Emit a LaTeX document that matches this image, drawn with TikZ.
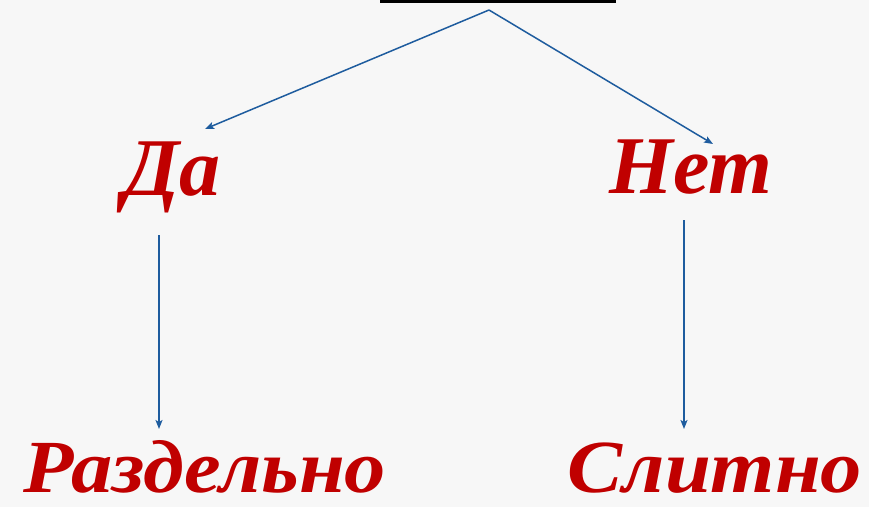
\documentclass[tikz,border=0pt]{standalone}
\usepackage{fontspec}
\setmainfont{Liberation Serif}
\newfontfamily\wideserif[FakeStretch=1.1]{Liberation Serif}
\usetikzlibrary{arrows.meta}
\definecolor{wordred}{RGB}{192,0,0}
\definecolor{arrowblue}{RGB}{30,92,158}
\definecolor{paper}{RGB}{247,247,247}

\begin{document}
\begin{tikzpicture}[x=1pt, y=-1pt,
        word/.style={font={\fontsize{82}{82}\bfseries\itshape\selectfont}, wordred, inner sep=0pt, anchor=base},
        wordbig/.style={word, font={\wideserif\fontsize{75}{75}\bfseries\itshape\selectfont}},
        link/.style={arrowblue, line width=1.5pt, -{Stealth[length=9pt, width=7pt, inset=2pt]}}]
        \useasboundingbox (0, 0) rectangle (869, 507);
        \fill[paper] (0, 0) rectangle (869, 507);
        \draw[line width=3pt, black] (380, 1.5) -- (616, 1.5);
        \coordinate (apex) at (489, 10);
        \coordinate (yesend) at (205, 129);
        \coordinate (noend) at (713, 144);
        \node[word] (yes) at (172, 195) {Да};
        \node[word] (no) at (691, 193) {Нет};
        \node[wordbig] (apart) at (205, 492) {Раздельно};
        \node[wordbig] (together) at (715, 492) {Слитно};
        \coordinate (yesfoot) at (159, 235);
        \coordinate (nofoot) at (684, 220);
        \coordinate (apartend) at (159, 429);
        \coordinate (togetherend) at (684, 429);
        \draw[link] (apex) -- (yesend);
        \draw[link] (apex) -- (noend);
        \draw[link] (yesfoot) -- (apartend);
        \draw[link] (nofoot) -- (togetherend);
    \end{tikzpicture}
\end{document}
